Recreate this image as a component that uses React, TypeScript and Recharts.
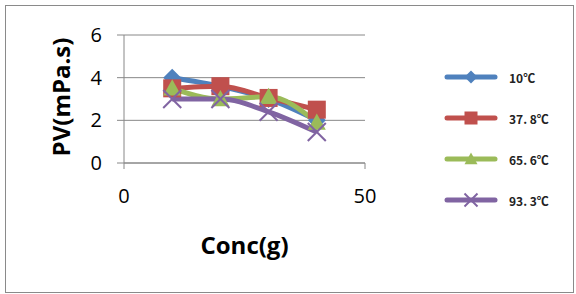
import { LineChart, Line, XAxis, YAxis, CartesianGrid } from "recharts";

const concValues = [10, 20, 30, 40];
const pv10 = [4, 3.6, 3, 2];
const pv378 = [3.5, 3.6, 3.05, 2.5];
const pv656 = [3.5, 3.0, 3.1, 1.9];
const pv933 = [3.0, 3.0, 2.4, 1.45];
const seriesNames = ["10℃", "37. 8℃", "65. 6℃", "93. 3℃"];
const xTicks = [0, 50];
const yTicks = [0, 2, 4, 6];

const colors = ["#4F81BD", "#C0504D", "#9BBB59", "#8064A2"];
const shapes = ["diamond", "square", "triangle", "cross"];
const keys = ["s10", "s378", "s656", "s933"];

const data = concValues.map((x, i) => ({
  x,
  s10: pv10[i],
  s378: pv378[i],
  s656: pv656[i],
  s933: pv933[i],
}));

function Marker({ cx, cy, shape, color, size }: any) {
  const h = size / 2;
  if (shape === "diamond") {
    return <polygon points={`${cx},${cy - h} ${cx + h},${cy} ${cx},${cy + h} ${cx - h},${cy}`} fill={color} />;
  }
  if (shape === "square") {
    return <rect x={cx - h} y={cy - h} width={size} height={size} fill={color} />;
  }
  if (shape === "triangle") {
    return <polygon points={`${cx},${cy - h} ${cx + h},${cy + h * 0.8} ${cx - h},${cy + h * 0.8}`} fill={color} />;
  }
  return (
    <g stroke={color} strokeWidth={2}>
      <line x1={cx - h} y1={cy - h} x2={cx + h} y2={cy + h} />
      <line x1={cx - h} y1={cy + h} x2={cx + h} y2={cy - h} />
    </g>
  );
}

const makeDot = (i: number) => (props: any) => (
  <Marker key={`${i}-${props.index}`} cx={props.cx} cy={props.cy} shape={shapes[i]} color={colors[i]} size={18} />
);

const YTitle = ({ viewBox }: any) => {
  const cy = viewBox.y + viewBox.height / 2 - 2;
  const cx = viewBox.x + 16;
  return (
    <text
      x={cx}
      y={cy}
      transform={`rotate(-90, ${cx}, ${cy})`}
      textAnchor="middle"
      dominantBaseline="central"
      fontFamily="Open Sans"
      fontWeight="bold"
      fontSize={24}
      fill="#000"
    >
      PV(mPa.s)
    </text>
  );
};

export default function App() {
  return (
    <div style={{ position: "absolute", left: 0, top: 0, width: 576, height: 294, background: "#fff" }}>
      <div
        style={{
          position: "absolute",
          left: 5,
          top: 5,
          width: 567,
          height: 286,
          border: "1px solid #8a8a8a",
        }}
      />
      <LineChart
        width={576}
        height={294}
        data={data}
        margin={{ top: 35, right: 211, left: 44, bottom: 31 }}
        style={{ position: "absolute", left: 0, top: 0 }}
      >
        <CartesianGrid horizontal vertical={false} stroke="#888888" strokeWidth={1} />
        <XAxis
          dataKey="x"
          type="number"
          domain={[0, 50]}
          ticks={xTicks}
          height={100}
          stroke="#888888"
          tickSize={6}
          tickMargin={20}
          tick={{ fontSize: 20, fill: "#000", fontFamily: "Open Sans" }}
          label={{
            value: "Conc(g)",
            position: "insideBottom",
            offset: 9,
            fontSize: 24,
            fontWeight: "bold",
            fill: "#000",
            fontFamily: "Open Sans",
          }}
        />
        <YAxis
          type="number"
          domain={[0, 6]}
          ticks={yTicks}
          width={80}
          stroke="#888888"
          tickSize={7}
          tickMargin={15}
          tick={{ fontSize: 20, fill: "#000", fontFamily: "Open Sans" }}
          label={<YTitle />}
        />
        {keys.map((k, i) => (
          <Line
            key={k}
            dataKey={k}
            name={seriesNames[i]}
            type="monotone"
            stroke={colors[i]}
            strokeWidth={5}
            dot={makeDot(i)}
            activeDot={false}
            isAnimationActive={false}
          />
        ))}
      </LineChart>
      <svg width={576} height={294} style={{ position: "absolute", left: 0, top: 0, pointerEvents: "none" }}>
        {seriesNames.map((name, i) => {
          const y = 77 + i * 41;
          return (
            <g key={name}>
              <line x1={447} y1={y} x2={495} y2={y} stroke={colors[i]} strokeWidth={5} strokeLinecap="round" />
              <Marker cx={471} cy={y} shape={shapes[i]} color={colors[i]} size={13} />
              <text
                x={509}
                y={y}
                dominantBaseline="central"
                fontFamily="Noto Sans CJK SC"
                fontWeight="bold"
                fontSize={12}
                fill="#222"
              >
                {name}
              </text>
            </g>
          );
        })}
      </svg>
    </div>
  );
}
